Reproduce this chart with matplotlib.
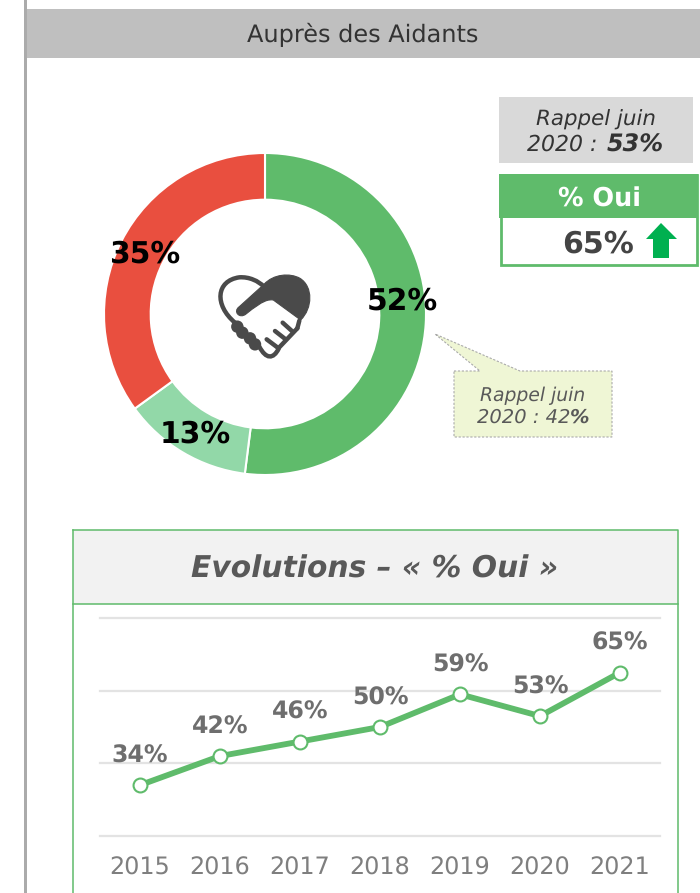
import matplotlib
matplotlib.use("Agg")
import matplotlib.pyplot as plt
from matplotlib.patches import Rectangle, Polygon, Circle, PathPatch
from matplotlib.path import Path

# Donut data
donut_labels = ["52%", "13%", "35%"]
donut_values = [52, 13, 35]
donut_colors = ["#5FBB6B", "#92D8A8", "#E94F3F"]

# Evolution data
years = [2015, 2016, 2017, 2018, 2019, 2020, 2021]
oui = [34, 42, 46, 50, 59, 53, 65]

W, H = 700, 893
GREEN = "#5FBB6B"
GREY_TXT = "#6E6E6E"

plt.rcParams['font.family'] = 'DejaVu Sans'
plt.rcParams['text.hinting'] = 'no_hinting'
fig = plt.figure(figsize=(W / 100, H / 100), dpi=100)


def axes_px(x0, y0, x1, y1):
    # axes placed with pixel coords, y going down
    return fig.add_axes([x0 / W, 1 - y1 / H, (x1 - x0) / W, (y1 - y0) / H])


# Background layer in pixels
bg = fig.add_axes([0, 0, 1, 1])
bg.set_xlim(0, W)
bg.set_ylim(H, 0)
bg.axis("off")

bg.add_patch(Rectangle((24, 0), 3, H, color="#ABABAB", lw=0))
bg.add_patch(Rectangle((27, 9), 673, 49, color="#BFBFBF", lw=0))
bg.text(363, 35, "Auprès des Aidants", ha="center", va="center", fontsize=17.3, color="#333333")

# Rappel box
bg.add_patch(Rectangle((499, 97), 194, 66, color="#D9D9D9", lw=0))
bg.text(596, 120, "Rappel juin", ha="center", va="center", fontsize=15.4, style="italic", color="#333333")
bg.text(597, 145, "2020 :", ha="right", va="center", fontsize=15.8, style="italic", color="#333333")
bg.text(607, 145, "53%", ha="left", va="center", fontsize=17.2, style="italic", fontweight="bold", color="#333333")

# % Oui box
bg.add_patch(Rectangle((500.5, 175), 196, 90, fc="white", ec=GREEN, lw=2))
bg.add_patch(Rectangle((499, 174), 199, 44, color=GREEN, lw=0))
bg.text(599, 199, "% Oui", ha="center", va="center", fontsize=18.4, fontweight="bold", color="white")
bg.text(598, 244, "65%", ha="center", va="center", fontsize=21.6, fontweight="bold", color="#444444")
bg.add_patch(Polygon([(646, 239), (661, 223), (677, 239), (669, 239), (669, 258), (653, 258), (653, 239)],
                     color="#00B050", lw=0))

# Callout
bg.add_patch(Polygon([(454, 371), (480, 371), (435, 334), (520, 371), (612, 371), (612, 437), (454, 437)],
                     fc="#EFF6D5", ec="#AAAAAA", lw=0.8, ls=(0, (2, 1.5))))
bg.text(533, 396, "Rappel juin", ha="center", va="center", fontsize=13.5, style="italic", color="#595959")
bg.text(570, 417, "2020 : 42", ha="right", va="center", fontsize=14, style="italic", color="#595959")
bg.text(570, 417, "%", ha="left", va="center", fontsize=14, style="italic", fontweight="bold", color="#595959")

# Evolutions frame
bg.add_patch(Rectangle((73, 530), 605, 74, fc="#F2F2F2", ec="none"))
bg.plot([73, 73], [893, 530], color=GREEN, lw=1.1)
bg.plot([73, 678, 678], [530, 530, 893], color=GREEN, lw=1.1)
bg.plot([73, 678], [603.5, 603.5], color=GREEN, lw=1.1)
bg.text(375, 569, "Evolutions – « % Oui »", ha="center", va="center", fontsize=21.4, fontweight="bold",
        style="italic", color="#595959")

# Donut
ax = axes_px(104, 153, 426, 475)
wedges, _ = ax.pie(donut_values, colors=donut_colors, startangle=90, counterclock=False, radius=1,
                   wedgeprops=dict(width=0.29, edgecolor="white", linewidth=1.5))
ax.set_xlim(-1, 1)
ax.set_ylim(-1, 1)
ax.patch.set_alpha(0)

label_pos = [(402, 301), (195, 434), (145, 254)]
for lab, (lx, ly) in zip(donut_labels, label_pos):
    fig.text(lx / W, 1 - ly / H, lab, ha="center", va="center", fontsize=21.4, fontweight="bold",
             color="black", zorder=10)


# Handshake icon, drawn from zoomed crop coords
def z(x, y):
    return (190 + x / 3, 250 + y / 3)


icon = fig.add_axes([0, 0, 1, 1], zorder=5)
icon.set_xlim(0, W)
icon.set_ylim(H, 0)
icon.axis("off")
ICON = "#4A4A4A"

M, L, C = Path.MOVETO, Path.LINETO, Path.CURVE4
lobe = [z(148, 170), z(222, 103), z(250, 72), z(300, 68), z(330, 85), z(370, 110), z(368, 175), z(332, 210),
        z(250, 150), z(235, 148), z(220, 150), z(168, 192), z(148, 208), z(128, 184), z(148, 170)]
codes = [M, L, C, C, C, C, C, C, L, C, C, L, C, C, C]
icon.add_patch(PathPatch(Path(lobe, codes), fc=ICON, ec=ICON, lw=0.8))

left = [z(135, 218), z(72, 165), z(78, 92), z(148, 82), z(178, 80), z(205, 93), z(222, 110)]
icon.add_patch(PathPatch(Path(left, [M, C, C, C, C, C, C]), fc="none", ec=ICON, lw=3.2, capstyle="round"))

hand = [z(208, 290), z(228, 328), z(250, 328), z(266, 296)]
icon.add_patch(PathPatch(Path(hand, [M, C, C, C]), fc="none", ec=ICON, lw=3.2, capstyle="round"))
for seg in ([z(264, 296), z(322, 235)], [z(322, 235), z(328, 212)], [z(230, 268), z(262, 292)],
            [z(255, 243), z(287, 268)], [z(278, 218), z(308, 245)]):
    icon.plot(*zip(*seg), color=ICON, lw=3.2, solid_capstyle="round")
for k in [(142, 230), (157, 248), (180, 265), (195, 283)]:
    icon.add_patch(Circle(z(*k), 6.2, color=ICON, lw=0))

# Line chart
lc = axes_px(100, 618, 660, 836)
lc.patch.set_alpha(0)
lc.set_xlim(2014.5, 2021.5)
lc.set_ylim(20, 80)
lc.set_yticks([20, 40, 60, 80])
lc.grid(axis="y", color="#E3E3E3", lw=1.6, clip_on=False)
lc.set_axisbelow(True)
lc.tick_params(length=0, labelleft=False)
lc.set_xticks(years)
lc.set_xticklabels(years, fontsize=17.2, color="#7F7F7F")
lc.tick_params(axis="x", pad=15)
for s in lc.spines.values():
    s.set_visible(False)
lc.plot(years, oui, color=GREEN, lw=4.2, marker="o", ms=10, mfc="white", mec=GREEN, mew=1.5, clip_on=False)
for yr, v in zip(years, oui):
    lc.annotate(f"{v}%", (yr, v), xytext=(0, 29), textcoords="offset pixels", ha="center", va="center",
                fontsize=17, fontweight="bold", color=GREY_TXT)

fig.savefig("out.png", dpi=100)
